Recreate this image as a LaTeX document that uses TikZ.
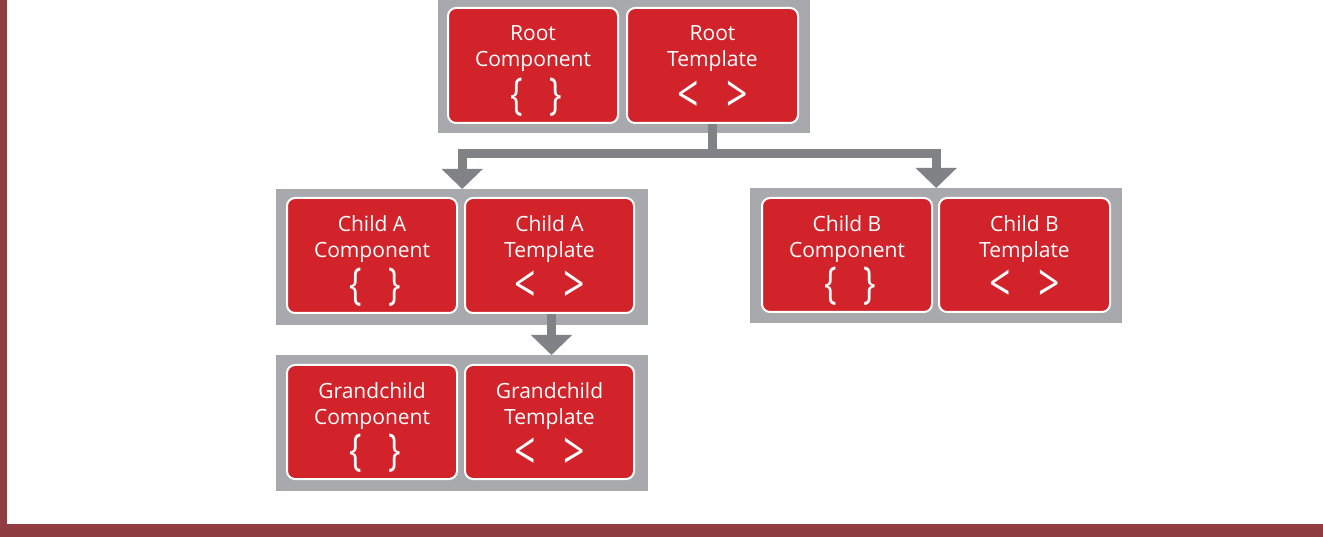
\documentclass[tikz,border=0pt]{standalone}
\usepackage{fontspec}
\setmainfont{Open Sans}
\usetikzlibrary{arrows.meta}
\definecolor{boxred}{HTML}{D2232A}
\definecolor{grpgray}{HTML}{A7A9AC}
\definecolor{conngray}{HTML}{808285}
\definecolor{frame}{HTML}{8F3D40}
\tikzset{
  grp/.style={fill=grpgray, draw=none},
  cbox/.style={fill=boxred, draw=white, line width=2pt, rounded corners=8pt,
    minimum width=170pt, minimum height=115pt, inner sep=0pt},
  txt/.style={text=white, align=center, inner sep=0pt, font=\fontsize{21}{26}\selectfont},
  brace/.style={text=white, inner sep=0pt, font=\fontsize{44}{44}\selectfont},
  chev/.style={text=white, inner sep=0pt, anchor=base, font=\fontsize{52}{52}\selectfont},
  conn/.style={draw=conngray, line width=9pt, -{Triangle[width=40pt,length=20pt]}},
}
\newcommand{\bracesym}{\scalebox{0.75}[1]{\{}\hspace{26pt}\scalebox{0.75}[1]{\}}}
\newcommand{\chevsym}{\smash{\scalebox{0.72}[1]{<}\hspace{28pt}\scalebox{0.72}[1]{>}}}
\begin{document}
\begin{tikzpicture}[x=1pt,y=-1pt]
\useasboundingbox (0,0) rectangle (1323,537);
\fill[white] (0,0) rectangle (1323,537);
\fill[frame] (0,0) rectangle (7,537);
\fill[frame] (0,524) rectangle (1323,537);

% groups
\node[grp, minimum width=372pt, minimum height=133pt, inner sep=0pt, anchor=north west] (gr) at (438,0) {};
\node[grp, minimum width=372pt, minimum height=136pt, inner sep=0pt, anchor=north west] (ga) at (276,189) {};
\node[grp, minimum width=372pt, minimum height=136pt, inner sep=0pt, anchor=north west] (gg) at (276,355) {};
\node[grp, minimum width=372pt, minimum height=135pt, inner sep=0pt, anchor=north west] (gb) at (750,188) {};

% boxes
\node[cbox] (rc) at (533,65.5) {};
\node[cbox, minimum width=171pt] (rt) at (712.5,65.5) {};
\node[cbox] (cac) at (372,255.5) {};
\node[cbox, minimum width=169pt] (cat) at (549.5,255.5) {};
\node[cbox, minimum height=114pt] (gcc) at (372,422) {};
\node[cbox, minimum width=169pt, minimum height=114pt] (gct) at (549.5,422) {};
\node[cbox, minimum height=114pt] (cbc) at (847,255) {};
\node[cbox, minimum width=171pt, minimum height=114pt] (cbt) at (1024.5,255) {};

% texts
\foreach \b/\t in {rc/{Root\\Component}, cac/{Child A\\Component}, gcc/{Grandchild\\Component}, cbc/{Child B\\Component}}{
  \node[txt] at ([yshift=-42pt]\b.north) {\t};
  \node[brace] at ([xshift=3pt,yshift=27pt]\b.south) {\bracesym};
}
\foreach \b/\t in {rt/{Root\\Template}, cat/{Child A\\Template}, gct/{Grandchild\\Template}, cbt/{Child B\\Template}}{
  \node[txt] at ([yshift=-42pt]\b.north) {\t};
  \node[chev] at ([yshift=11pt]\b.south) {\chevsym};
}

% connectors
\draw[conn] (rt.south) -- ++(0,29.5) -| (ga.north);
\draw[conn] (rt.south) -- ++(0,29.5) -| (gb.north);
\draw[conn] ([xshift=2pt]cat.south) -- ([xshift=2pt]cat.south |- gg.north);
\end{tikzpicture}
\end{document}
